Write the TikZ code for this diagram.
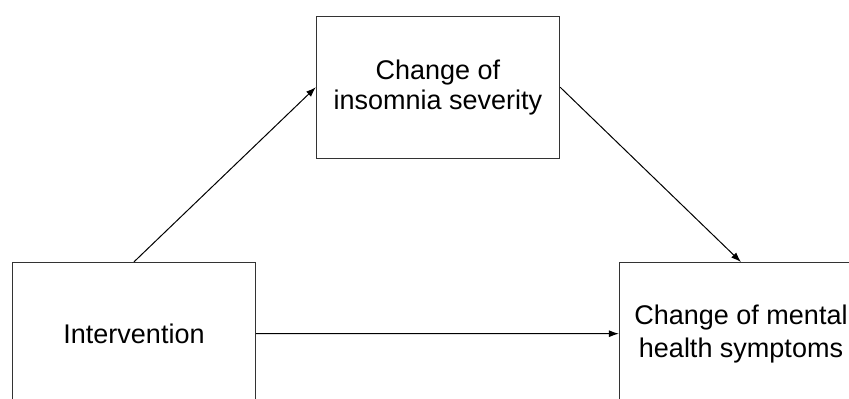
\documentclass[tikz,border=0pt]{standalone}
\usepackage{fontspec}
\setmainfont{Liberation Sans}
\usetikzlibrary{arrows.meta}
\begin{document}
\begin{tikzpicture}[x=1pt,y=-1pt,
  box/.style={draw=black!80, line width=1.3pt, minimum width=243pt, minimum height=142pt,
    inner sep=0pt, align=center, font=\fontsize{27}{30}\selectfont},
  conn/.style={draw=black, line width=1pt, -{Latex[length=10pt,width=7pt]}}]
\useasboundingbox (0,0) rectangle (849,399);
\node[box] (int) at (134,333.5) {Intervention};
\node[box] (ins) at (438,87.2) {Change of\\insomnia severity};
\node[box, font=\fontsize{27}{33}\selectfont] (men) at (741,333.7) {Change of mental\\health symptoms};
\draw[conn] (int.north) -- (ins.west);
\draw[conn] (ins.east) -- (men.north);
\draw[conn] (int.east) -- (men.west);
\end{tikzpicture}
\end{document}
